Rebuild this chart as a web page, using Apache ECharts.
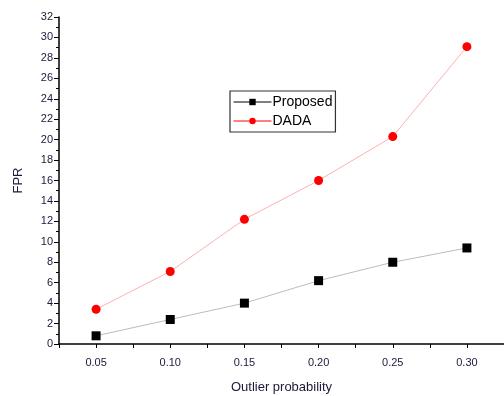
<!DOCTYPE html>
<html><head><meta charset="utf-8">
<script src="https://cdn.jsdelivr.net/npm/echarts@6/dist/echarts.min.js"></script>
<style>html,body{margin:0;padding:0;background:#fff}#c{width:504px;height:396px}</style>
</head><body><div id="c"></div>
<script>
const xValues = [0.05, 0.10, 0.15, 0.20, 0.25, 0.30];
const proposed = [0.8, 2.4, 4.0, 6.2, 8.0, 9.4];
const dada = [3.4, 7.1, 12.2, 16.0, 20.3, 29.1];
const xTickLabels = ['0.05', '0.10', '0.15', '0.20', '0.25', '0.30'];

const chart = echarts.init(document.getElementById('c'));
const font = 'Liberation Sans, Arial, sans-serif';
chart.setOption({
  animation: false,
  grid: {left: 59, right: 0, top: 17, bottom: 52, containLabel: false, outerBoundsMode: 'none'},
  legend: {
    left: 230, top: 91, orient: 'vertical',
    borderColor: '#333', borderWidth: 1.2, padding: [4, 3, 4, 3],
    itemGap: 5, itemWidth: 38, itemHeight: 8,
    textStyle: {fontFamily: font, fontSize: 14, color: '#000', padding: [0,0,0,-4]},
    data: [
      {name: 'Proposed', itemStyle: {color: '#000'}, lineStyle: {color: '#000', width: 1}},
      {name: 'DADA', itemStyle: {color: '#f00'}, lineStyle: {color: '#f00', width: 1}}
    ]
  },
  xAxis: {
    type: 'value', min: 0.025, max: 0.325, interval: 0.025,
    name: 'Outlier probability', nameLocation: 'middle', nameGap: 37,
    nameTextStyle: {fontFamily: font, fontSize: 13, color: '#1a1a3a'},
    axisLine: {lineStyle: {color: '#000', width: 1.5}},
    axisTick: {show: true, length: 4, lineStyle: {color: '#000'}},
    splitLine: {show: false},
    axisLabel: {
      fontFamily: font, fontSize: 11, color: '#1a1a3a', margin: 13,
      formatter: function (v) {
        const i = xValues.findIndex(x => Math.abs(x - v) < 1e-6);
        return i >= 0 ? xTickLabels[i] : '';
      }
    }
  },
  yAxis: {
    type: 'value', min: 0, max: 32, interval: 2,
    name: 'FPR', nameLocation: 'middle', nameGap: 34,
    nameTextStyle: {fontFamily: font, fontSize: 13, color: '#1a1a3a'},
    axisLine: {show: true, lineStyle: {color: '#000', width: 1.5}},
    axisTick: {show: true, length: 5, lineStyle: {color: '#000'}},
    minorTick: {show: true, splitNumber: 2, length: 3, lineStyle: {color: '#000'}},
    splitLine: {show: false},
    axisLabel: {fontFamily: font, fontSize: 11, color: '#1a1a3a', margin: 6}
  },
  series: [
    {
      name: 'Proposed', type: 'line',
      data: xValues.map((x, i) => [x, proposed[i]]),
      symbol: 'rect', symbolSize: 9,
      itemStyle: {color: '#000'},
      lineStyle: {color: '#bbbbbb', width: 1}
    },
    {
      name: 'DADA', type: 'line',
      data: xValues.map((x, i) => [x, dada[i]]),
      symbol: 'circle', symbolSize: 9,
      itemStyle: {color: '#f00'},
      lineStyle: {color: '#ffb0b0', width: 1}
    }
  ]
});
</script></body></html>
